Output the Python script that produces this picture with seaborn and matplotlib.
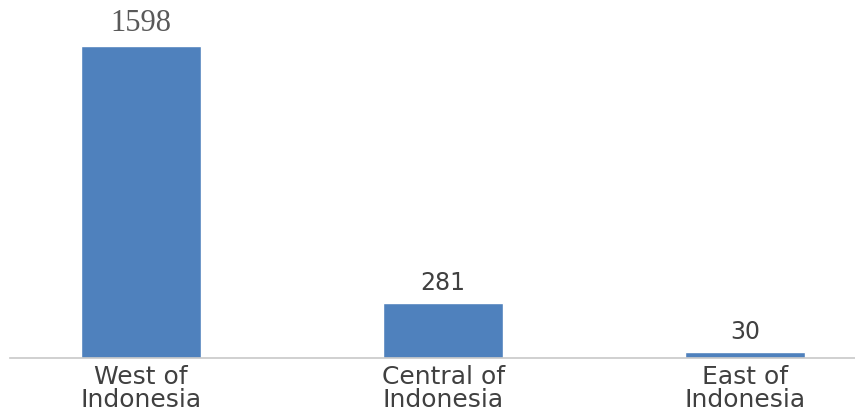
import pandas as pd
import matplotlib
matplotlib.use('Agg')
import matplotlib.pyplot as plt
import seaborn as sns

regions = ['West of\nIndonesia', 'Central of\nIndonesia', 'East of\nIndonesia']
counts = [1598, 281, 30]

df = pd.DataFrame({'region': regions, 'count': counts})

sns.set_style('white')
fig = plt.figure(figsize=(8.55, 4.17), dpi=100)
# axes runs past the picture's edges like the cropped original
ax = fig.add_axes([10 / 855, 59 / 417, 845 / 855, 358 / 417])

sns.barplot(data=df, x='region', y='count', color='#4F81BD', saturation=1,
            width=0.4, ax=ax)

ax.set_xlim(-0.434, 2.364)
ax.set_ylim(0, 1833)
ax.set_xlabel('')
ax.set_ylabel('')
ax.set_yticks([])
for side in ['top', 'right', 'left']:
    ax.spines[side].set_visible(False)
ax.spines['bottom'].set_color('#C8C8C8')
ax.spines['bottom'].set_linewidth(1.2)
ax.tick_params(axis='x', length=0, pad=5)
for lab in ax.get_xticklabels():
    lab.set_fontsize(18)
    lab.set_color('#404040')
    lab.set_linespacing(0.95)

labels = ax.bar_label(ax.containers[0], padding=6)
labels[0].set_fontfamily('Liberation Serif')
labels[0].set_fontsize(22)
labels[0].set_color('#595959')
for t in labels[1:]:
    t.set_fontfamily('DejaVu Sans')
    t.set_fontsize(17)
    t.set_color('#404040')

plt.savefig('out.png', dpi=100)
